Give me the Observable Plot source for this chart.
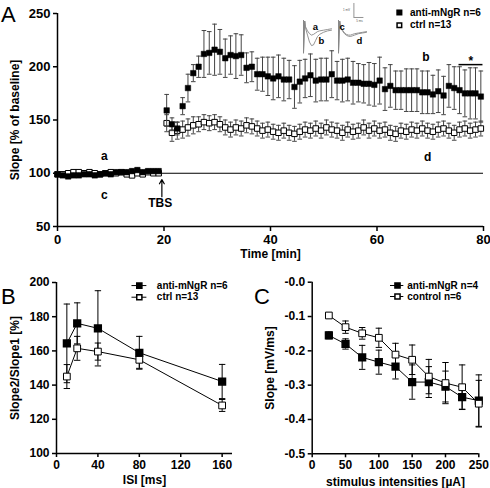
<!DOCTYPE html>
<html><head><meta charset="utf-8">
<script src="https://cdn.jsdelivr.net/npm/d3@7"></script>
<script src="https://cdn.jsdelivr.net/npm/@observablehq/plot@0.6"></script>
<style>
body{margin:0;background:#fff;}
#wrap{position:relative;width:490px;height:488px;overflow:hidden;font-family:"Liberation Sans",Arial,sans-serif;}
#wrap svg{position:absolute;overflow:visible;}
.letter{position:absolute;font-size:22px;font-family:"Liberation Sans",Arial,sans-serif;line-height:1;}
</style></head>
<body><div id="wrap"></div>
<script>
// ---------- Panel A data ----------
const baseTime = [0,1,2,3,4,5,6,7,8,9,10,11,12,13,14,15,16,17,18,19];
const baseAnti = [99,98,97,98,98,99,99,98,99,100,99,101,101,101,102,103,101,102,102,102];
const baseAntiErr = [2,2,2,2,2,2,2,2,2,2,2,2,2,2,2,2,2,2,2,2];
const baseCtrl = [99,99,100,101,101,100,101,100,99,100,101,100,101,99,98,100,99,101,100,100];
const baseCtrlErr = [2,2,2,2,2,2,2,2,2,2,2,2,2,2,2,2,2,2,2,2];
const postTime = [20.5,21.5,22.5,23.5,24.5,25.5,26.5,27.5,28.5,29.5,30.5,31.5,32.5,33.5,34.5,35.5,36.5,37.5,38.5,39.5,
  40.5,41.5,42.5,43.5,44.5,45.5,46.5,47.5,48.5,49.5,50.5,51.5,52.5,53.5,54.5,55.5,56.5,57.5,58.5,59.5,
  60.5,61.5,62.5,63.5,64.5,65.5,66.5,67.5,68.5,69.5,70.5,71.5,72.5,73.5,74.5,75.5,76.5,77.5,78.5,79.5];
const postAnti = [159,146,142,163,180,194,200,212,213,216,214,208,211,210,211,199,200,193,193,191,
  189,191,188,188,181,186,189,192,187,188,188,193,187,187,188,185,185,184,184,183,
  187,179,182,178,178,178,178,178,176,176,174,177,173,182,180,178,175,175,175,172];
const postAntiErr = [15,6,6,8,13,8,10,22,20,24,21,18,18,21,19,14,14,15,16,18,
  20,20,20,18,20,20,18,20,20,20,20,22,18,20,20,20,18,18,20,20,
  22,20,20,18,18,20,20,20,20,20,18,20,18,20,20,22,22,24,24,24];
const postCtrl = [147,138,140,141,143,145,146,148,147,148,146,143,141,143,142,145,144,142,140,141,
  139,138,140,138,137,139,141,140,142,140,143,141,140,138,141,139,140,143,140,142,
  140,141,138,137,140,139,141,140,142,140,139,141,142,140,138,141,142,140,141,142];
const postCtrlErr = [8,8,8,8,8,8,7,7,7,7,7,7,7,7,7,7,7,7,7,7,
  7,7,7,7,7,7,7,7,7,7,7,7,7,7,7,7,7,7,7,7,
  7,7,7,7,7,7,7,7,7,7,7,7,7,7,7,7,7,7,7,7];
const legendA = ["anti-mNgR n=6", "ctrl n=13"];
const xTicksA = [0,20,40,60,80];
const yTicksA = [50,100,150,200,250];

// inset traces (ms, mV)
const traceT  = [0,0,0.6,1,2,3,4,5,6,7,8,10,12,14];
const traceA  = [0.15,-2.2,0.1,-0.3,-0.6,-0.8,-0.9,-0.85,-0.75,-0.65,-0.6,-0.55,-0.5,-0.45];
const traceB  = [0.15,-2.1,0.1,-0.4,-0.9,-1.4,-1.65,-1.6,-1.3,-1.0,-0.85,-0.7,-0.6,-0.55];
const traceC  = [0.15,-2.2,0.1,-0.3,-0.55,-0.75,-0.85,-0.9,-0.9,-0.85,-0.8,-0.75,-0.7,-0.65];
const traceD  = [0.15,-2.1,0.1,-0.35,-0.6,-0.8,-0.92,-0.98,-1.0,-0.95,-0.9,-0.8,-0.75,-0.7];

// ---------- Panel B data ----------
const isi = [10,20,40,80,160];
const bAnti = [164.4,176.1,173.2,158.9,142.1];
const bAntiErr = [23,12,22,9.6,10];
const bCtrl = [145,161.5,159.6,154.8,128.1];
const bCtrlErr = [7,7,5,5,3.5];
const legendB = ["anti-mNgR n=6", "ctrl n=13"];
const xTicksB = [0,40,80,120,160];
const yTicksB = [100,120,140,160,180,200];

// ---------- Panel C data ----------
const stim = [25,50,75,100,125,150,175,200,225,250];
const cAnti = [-0.155,-0.180,-0.219,-0.233,-0.246,-0.291,-0.291,-0.304,-0.335,-0.345];
const cAntiErr = [0.010,0.015,0.035,0.035,0.036,0.05,0.045,0.045,0.035,0.075];
const cCtrl = [-0.097,-0.131,-0.149,-0.162,-0.211,-0.226,-0.275,-0.294,-0.306,-0.354];
const cCtrlErr = [0.004,0.018,0.017,0.028,0.033,0.043,0.05,0.06,0.065,0.068];
const legendC = ["anti-mNgR n=4", "control n=6"];
const xTicksC = [0,50,100,150,200,250];
const yTicksC = [0,-0.1,-0.2,-0.3,-0.4,-0.5];

// ---------- helpers ----------
const FONT = '"Liberation Sans", Arial, Helvetica, sans-serif';
const cap = {draw(ctx, size){ const w = Math.sqrt(size); ctx.moveTo(-w/2,0); ctx.lineTo(w/2,0); }};
const rows = (xs, ys, es) => xs.map((x,i) => ({x, y: ys[i], e: es[i]}));
function errMarks(data, color, capR, sw=1){
  return [
    Plot.ruleX(data, {x:"x", y1:d=>d.y-d.e, y2:d=>d.y+d.e, stroke:color, strokeWidth:sw}),
    Plot.dot(data, {x:"x", y:d=>d.y+d.e, symbol:cap, r:capR, stroke:color, fill:"none", strokeWidth:sw}),
    Plot.dot(data, {x:"x", y:d=>d.y-d.e, symbol:cap, r:capR, stroke:color, fill:"none", strokeWidth:sw})
  ];
}
const wrap = document.getElementById("wrap");
function place(svg, left, top){ svg.style.left = left+"px"; svg.style.top = top+"px"; wrap.appendChild(svg); }
function letter(t, left, top){ const s=document.createElement("div"); s.className="letter"; s.textContent=t; s.style.left=left+"px"; s.style.top=top+"px"; wrap.appendChild(s); }

// ---------- Panel A ----------
const antiA = rows(baseTime.concat(postTime), baseAnti.concat(postAnti), baseAntiErr.concat(postAntiErr));
const ctrlA = rows(baseTime.concat(postTime), baseCtrl.concat(postCtrl), baseCtrlErr.concat(postCtrlErr));
const annA = [
  {x:8.8, y:116, t:"a"}, {x:8.8, y:79, t:"c"}, {x:19.3, y:72, t:"TBS"},
  {x:69.2, y:209, t:"b"}, {x:69.5, y:115, t:"d"}, {x:77.6, y:205, t:"*"}
];
const plotA = Plot.plot({
  width:490, height:270, marginLeft:57, marginRight:7, marginTop:13, marginBottom:44,
  x:{domain:[0,80]}, y:{domain:[50,250]},
  style:{fontFamily:FONT, fontSize:"13px", fontWeight:"bold", background:"transparent", overflow:"visible", color:"black"},
  marks:[
    Plot.ruleY([100], {x1:0, x2:80, stroke:"black", strokeWidth:1}),
    Plot.ruleX([0], {y1:50, y2:250, stroke:"black", strokeWidth:1.5}),
    Plot.ruleY([50], {x1:0, x2:80, stroke:"black", strokeWidth:1.5}),
    Plot.axisY({ticks:yTicksA, tickSize:4, tickPadding:3, label:null, strokeWidth:1.5}),
    Plot.axisX({ticks:xTicksA, tickSize:5, tickPadding:3, label:null, strokeWidth:1.5}),
    ...errMarks(ctrlA, "#444", 2.6, 1),
    Plot.dot(ctrlA, {x:"x", y:"y", symbol:"square", r:3.1, fill:"white", stroke:"black", strokeWidth:1}),
    ...errMarks(antiA, "#444", 2.6, 1),
    Plot.dot(antiA, {x:"x", y:"y", symbol:"square", r:3.1, fill:"black", stroke:"black", strokeWidth:0.5}),
    Plot.text(annA, {x:"x", y:"y", text:"t", fontSize:12, fontWeight:"bold"}),
    Plot.arrow([0], {x1:19.6, y1:78, x2:19.6, y2:94, stroke:"black", strokeWidth:1.2, headLength:6}),
    Plot.ruleY([202], {x1:75.4, x2:79.9, stroke:"black", strokeWidth:1.5}),
    Plot.dot(legendA, {x:64.2, y:(d,i)=>[251,239][i], symbol:"square", r:2.6, fill:(d,i)=>i?"white":"black", stroke:"black"}),
    Plot.text(legendA, {x:66.2, y:(d,i)=>[251,239][i], text:d=>d, textAnchor:"start", fontSize:10, fontWeight:"bold"}),
    Plot.text(["Slope [% of baseline]"], {frameAnchor:"left", textAnchor:"middle", lineAnchor:"middle", rotate:-90, dx:-42, fontSize:12, fontWeight:"bold"}),
    Plot.text(["Time [min]"], {frameAnchor:"bottom", lineAnchor:"middle", dy:28, fontSize:12, fontWeight:"bold"})
  ]
});
place(plotA, 0, 0);

// inset traces
const tr = (ys, off, k) => traceT.map((t,i)=>({x:t+off, y:ys[i], k}));
const traces = [...tr(traceA,0,"a"), ...tr(traceB,0,"b"), ...tr(traceC,17.5,"c"), ...tr(traceD,17.5,"d")];
const inset = Plot.plot({
  width:70, height:60, margin:0, x:{domain:[-1.5,33.5], axis:null}, y:{domain:[-2.714,1.571], axis:null},
  style:{fontFamily:FONT, background:"transparent", overflow:"visible"},
  marks:[
    Plot.line(traces, {x:"x", y:"y", z:"k", stroke:"#888", strokeWidth:0.9}),
    Plot.ruleX([25.2], {y1:0.357, y2:1.357, stroke:"#888", strokeWidth:0.9}),
    Plot.ruleY([0.357], {x1:25.2, x2:30.2, stroke:"#888", strokeWidth:0.9}),
    Plot.text([{x:6,y:-0.3,t:"a"},{x:9,y:-1.35,t:"b"},{x:19.3,y:-0.3,t:"c"},{x:28,y:-1.35,t:"d"}],
      {x:"x", y:"y", text:"t", fontSize:9.5, fontWeight:"bold", fill:"black"}),
    Plot.text(["1 mV"], {x:21.5, y:0.9, fontSize:3, fill:"#555"}),
    Plot.text(["5 ms"], {x:28, y:0.1, fontSize:3, fill:"#555"})
  ]
});
place(inset, 300, 0);

// ---------- Panel B ----------
const antiB = rows(isi, bAnti, bAntiErr);
const ctrlB = rows(isi, bCtrl, bCtrlErr);
const legYB = [198.2, 191.4];
const plotB = Plot.plot({
  width:245, height:218, marginLeft:56, marginRight:13, marginTop:12, marginBottom:35,
  x:{domain:[0,170]}, y:{domain:[100,200]},
  style:{fontFamily:FONT, fontSize:"12px", fontWeight:"bold", background:"transparent", overflow:"visible", color:"black"},
  marks:[
    Plot.ruleX([0], {y1:100, y2:200, stroke:"black", strokeWidth:1.5}),
    Plot.ruleY([100], {x1:0, x2:170, stroke:"black", strokeWidth:1.5}),
    Plot.axisY({ticks:yTicksB, tickSize:4, tickPadding:3, label:null, strokeWidth:1.5}),
    Plot.axisX({ticks:xTicksB, tickSize:4, tickPadding:3, label:null, strokeWidth:1.5}),
    Plot.line(antiB, {x:"x", y:"y", stroke:"black", strokeWidth:1}),
    Plot.line(ctrlB, {x:"x", y:"y", stroke:"black", strokeWidth:1}),
    ...errMarks(antiB, "black", 3.6, 1),
    ...errMarks(ctrlB, "black", 3.6, 1),
    Plot.dot(antiB, {x:"x", y:"y", symbol:"square", r:3.8, fill:"black", stroke:"black"}),
    Plot.dot(ctrlB, {x:"x", y:"y", symbol:"square", r:3.8, fill:"white", stroke:"black", strokeWidth:1}),
    Plot.ruleY(legendB, {x1:72.9, x2:87.3, y:(d,i)=>legYB[i], stroke:"black", strokeWidth:1}),
    Plot.dot(legendB, {x:80, y:(d,i)=>legYB[i], symbol:"square", r:2.9, fill:(d,i)=>i?"white":"black", stroke:"black"}),
    Plot.text(legendB, {x:96.9, y:(d,i)=>legYB[i], text:d=>d, textAnchor:"start", fontSize:10, fontWeight:"bold"}),
    Plot.text(["Slope2/Slope1 [%]"], {frameAnchor:"left", textAnchor:"middle", lineAnchor:"middle", rotate:-90, dx:-41, fontSize:12, fontWeight:"bold"}),
    Plot.text(["ISI [ms]"], {frameAnchor:"bottom", lineAnchor:"middle", dy:26.7, fontSize:12, fontWeight:"bold"})
  ]
});
place(plotB, 0, 270);

// ---------- Panel C ----------
const antiC = rows(stim, cAnti, cAntiErr);
const ctrlC = rows(stim, cCtrl, cCtrlErr);
const legYC = [-0.0096, -0.0417];
const fmtC = d => "-" + Math.abs(d).toFixed(1);
const plotC = Plot.plot({
  width:245, height:218, marginLeft:66.7, marginRight:11.7, marginTop:11.7, marginBottom:34.7,
  x:{domain:[0,250]}, y:{domain:[-0.5,0]},
  style:{fontFamily:FONT, fontSize:"12px", fontWeight:"bold", background:"transparent", overflow:"visible", color:"black"},
  marks:[
    Plot.ruleX([0], {y1:-0.5, y2:0, stroke:"black", strokeWidth:1.5}),
    Plot.ruleY([-0.5], {x1:0, x2:250, stroke:"black", strokeWidth:1.5}),
    Plot.axisY({ticks:yTicksC, tickFormat:fmtC, tickSize:4, tickPadding:3, label:null, strokeWidth:1.5}),
    Plot.axisX({ticks:xTicksC, tickSize:4, tickPadding:3, label:null, strokeWidth:1.5}),
    Plot.line(antiC, {x:"x", y:"y", stroke:"black", strokeWidth:1}),
    Plot.line(ctrlC, {x:"x", y:"y", stroke:"black", strokeWidth:1}),
    ...errMarks(antiC, "black", 3.6, 1),
    ...errMarks(ctrlC, "black", 3.6, 1),
    Plot.dot(antiC, {x:"x", y:"y", symbol:"square", r:3.8, fill:"black", stroke:"black"}),
    Plot.dot(ctrlC, {x:"x", y:"y", symbol:"square", r:3.8, fill:"white", stroke:"black", strokeWidth:1}),
    Plot.ruleY(legendC, {x1:117.5, x2:137.5, y:(d,i)=>legYC[i], stroke:"black", strokeWidth:1}),
    Plot.dot(legendC, {x:128, y:(d,i)=>legYC[i], symbol:"square", r:2.9, fill:(d,i)=>i?"white":"black", stroke:"black"}),
    Plot.text(legendC, {x:142.6, y:(d,i)=>legYC[i], text:d=>d, textAnchor:"start", fontSize:10, fontWeight:"bold"}),
    Plot.text(["Slope [mV/ms]"], {frameAnchor:"left", textAnchor:"middle", lineAnchor:"middle", rotate:-90, dx:-41.7, fontSize:12, fontWeight:"bold"}),
    Plot.text(["stimulus intensities [\u00b5A]"], {frameAnchor:"bottom", lineAnchor:"middle", dy:28, fontSize:12, fontWeight:"bold"})
  ]
});
place(plotC, 245, 270);

letter("A", 1, 4);
letter("B", 1, 286);
letter("C", 254, 286);
</script></body></html>
